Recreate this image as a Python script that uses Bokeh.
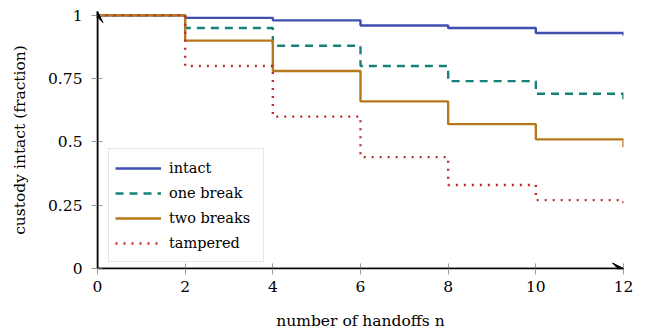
from bokeh.plotting import figure
from bokeh.models import Range1d, FixedTicker, Legend, LegendItem, Arrow, VeeHead
from bokeh.embed import file_html
from bokeh.resources import INLINE

# ---- data ----
handoffs = [0, 2, 4, 6, 8, 10, 12]
intact = [1.0, 0.99, 0.98, 0.96, 0.95, 0.93, 0.92]
one_break = [1.0, 0.95, 0.88, 0.80, 0.74, 0.69, 0.66]
two_breaks = [1.0, 0.90, 0.78, 0.66, 0.57, 0.51, 0.48]
tampered = [1.0, 0.80, 0.60, 0.44, 0.33, 0.27, 0.24]

series_names = ["intact", "one break", "two breaks", "tampered"]
x_ticks = [0, 2, 4, 6, 8, 10, 12]
y_ticks = [0, 0.25, 0.5, 0.75, 1]
y_tick_labels = ["0", "0.25", "0.5", "0.75", "1"]
x_label = "number of handoffs n"
y_label = "custody intact (fraction)"

FONT = "DejaVu Serif"

p = figure(width=640, height=335, output_backend="svg", toolbar_location=None,
           x_range=Range1d(0, 12), y_range=Range1d(0, 1.015),
           min_border_left=97, min_border_right=17, min_border_top=11,
           min_border_bottom=67)
p.outline_line_color = None
p.xgrid.visible = False
p.ygrid.visible = False
p.background_fill_color = "white"

styles = [
    dict(line_color="#3f4fb0", line_width=2.4, line_dash="solid"),
    dict(line_color="#17807a", line_width=2.4, line_dash="8 6"),
    dict(line_color="#b5781d", line_width=2.4, line_dash="solid"),
    dict(line_color="#c42a2a", line_width=2.4, line_dash="2 6"),
]
data = [intact, one_break, two_breaks, tampered]

items = []
for name, ys, st in zip(series_names, data, styles):
    r = p.step(handoffs, ys, mode="after", **st)
    items.append(LegendItem(label=name, renderers=[r]))

legend = Legend(items=items, location=(11, 6), orientation="vertical",
                label_text_font=FONT, label_text_font_size="14.5px",
                label_text_color="black", glyph_width=46, glyph_height=20,
                label_height=25, label_width=88, label_standoff=8,
                spacing=0, padding=6, margin=0,
                border_line_color="#cccccc", border_line_width=1,
                background_fill_color="white", background_fill_alpha=1)
p.add_layout(legend)

p.xaxis.ticker = FixedTicker(ticks=x_ticks)
p.yaxis.ticker = FixedTicker(ticks=y_ticks)
p.yaxis.major_label_overrides = {t: l for t, l in zip(y_ticks, y_tick_labels)}
p.xaxis.axis_label = x_label
p.yaxis.axis_label = y_label

for ax in (p.xaxis[0], p.yaxis[0]):
    ax.axis_line_color = "black"
    ax.axis_line_width = 1.6
    ax.major_tick_line_color = "#999999"
    ax.major_tick_line_width = 1
    ax.major_tick_in = 5
    ax.major_tick_out = 6
    ax.minor_tick_in = 0
    ax.minor_tick_out = 0
    ax.minor_tick_line_color = None
    ax.major_label_text_font = FONT
    ax.major_label_text_font_size = "15.5px"
    ax.major_label_text_color = "black"
    ax.axis_label_text_font = FONT
    ax.axis_label_text_font_size = "15.5px"
    ax.axis_label_text_font_style = "normal"
    ax.axis_label_text_color = "black"

p.xaxis.major_label_standoff = 6
p.xaxis.axis_label_standoff = 17
p.yaxis.major_label_standoff = 9
p.yaxis.axis_label_standoff = 16

# axis arrows
p.add_layout(Arrow(end=VeeHead(size=11, fill_color="black", line_color="black"),
                   x_start=x_ticks[0], y_start=0, x_end=x_ticks[-1], y_end=0,
                   line_color="black", line_width=1.6))
p.add_layout(Arrow(end=VeeHead(size=11, fill_color="black", line_color="black"),
                   x_start=0, y_start=y_ticks[0], x_end=0, y_end=p.y_range.end,
                   line_color="black", line_width=1.6))

open("out.html", "w").write(file_html(p, INLINE))
